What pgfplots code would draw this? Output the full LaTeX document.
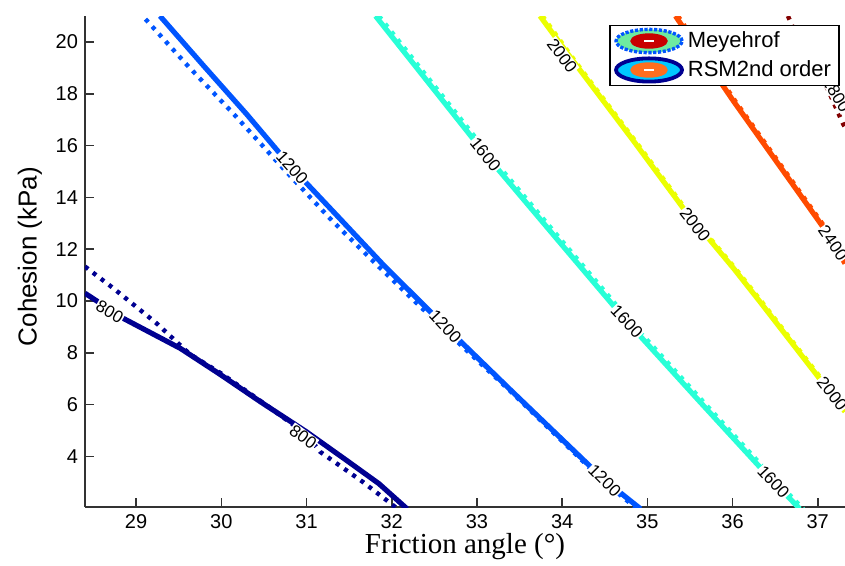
\documentclass[border=0pt]{standalone}
\usepackage{fontspec}
\setmainfont{Liberation Sans}
\newfontfamily\seriffont{Liberation Serif}
\usepackage{pgfplots}
\pgfplotsset{compat=1.18}

\definecolor{c800}{RGB}{0,0,145}
\definecolor{c1200}{RGB}{0,85,255}
\definecolor{c1600}{RGB}{40,255,215}
\definecolor{c2000}{RGB}{235,255,0}
\definecolor{c2400}{RGB}{255,75,0}
\definecolor{c2800}{RGB}{130,0,0}
\definecolor{lgreen}{RGB}{110,235,160}
\definecolor{lred}{RGB}{200,0,0}
\definecolor{lcyan}{RGB}{0,200,255}
\definecolor{lorange}{RGB}{255,110,30}

\tikzset{
  rsm/.style={line width=2.6pt, line join=round},
  mey/.style={line width=2.2pt, dash pattern=on 2pt off 3pt},
  clab/.style={fill=white, inner sep=0.4pt, font=\fontsize{8.5}{9}\selectfont}
}

\begin{document}
\begin{tikzpicture}
\begin{axis}[
  scale only axis, width=380pt, height=245.5pt,
  xmin=28.4, xmax=37.32, ymin=2.05, ymax=21,
  axis x line=bottom, axis y line=left,
  axis line style={-, line width=0.9pt, black!80},
  xtick={29,30,...,37}, ytick={4,6,...,20},
  tick align=inside, major tick length=4.5pt,
  tick style={line width=0.8pt, black!80},
  ticklabel style={font=\fontsize{10}{12}\selectfont},
  /pgf/number format/assume math mode=true,
  xlabel={\seriffont Friction angle (°)},
  xlabel style={font=\fontsize{14.5}{16}\selectfont, at={(axis description cs:0.5,0)}, anchor=north, yshift=-13pt, inner sep=0pt},
  ylabel={Cohesion (kPa)},
  ylabel style={font=\fontsize{13}{15}\selectfont, at={(axis description cs:-0.0724,0.51)}, anchor=center, rotate=0},
  legend style={at={(0.993,0.982)}, anchor=north east, draw=black, line width=0.7pt,
    font=\fontsize{11}{12}\selectfont, inner xsep=2pt, inner ysep=1pt, row sep=1pt,
    /tikz/every even column/.append style={column sep=0pt}},
  legend cell align=left,
]
\addlegendimage{legend image code/.code={
  \draw[line width=1.7pt, c1200, dash pattern=on 1.6pt off 0.8pt, fill=lgreen] (18pt,0pt) ellipse [x radius=16.5pt, y radius=5.8pt];
  \fill[lred] (18pt,0pt) ellipse [x radius=9pt, y radius=3.5pt];
  \draw[white, line width=0.9pt] (15.5pt,0pt) -- (20.5pt,0pt);
}}
\addlegendentry{Meyehrof}
\addlegendimage{legend image code/.code={
  \draw[line width=1.9pt, c800, fill=lcyan] (18pt,0pt) ellipse [x radius=16.5pt, y radius=5.8pt];
  \fill[lorange] (18pt,0pt) ellipse [x radius=9pt, y radius=3.5pt];
  \draw[white, line width=0.9pt] (15.5pt,0pt) -- (20.5pt,0pt);
}}
\addlegendentry{RSM2nd order}
% 800
\addplot[mey, c800, forget plot] coordinates {(28.40,11.33) (28.73,10.50) (29.24,9.14) (29.63,7.95) (30.0,7.2) (30.5,6.05) (31.0,4.85) (31.16,4.18) (31.66,3.02) (31.94,2.31) (32.06,2.0)};
\addplot[rsm, c800, forget plot] coordinates {(28.40,10.30) (28.85,9.33) (29.52,8.17) (29.99,7.16) (30.46,6.11) (31.0,4.95) (31.47,3.85) (31.85,2.95) (32.18,1.98)};
% 1200
\addplot[mey, c1200, forget plot] coordinates {(29.11,20.88) (29.6,19.1) (30.15,17.2) (30.72,15.14) (31.3,13.1) (31.84,11.35) (32.6,8.95) (33.4,6.5) (34.5,3.0) (34.88,1.98)};
\addplot[rsm, c1200, forget plot] coordinates {(29.28,21.0) (29.8,19.05) (30.3,17.2) (30.83,15.14) (31.4,13.15) (31.9,11.4) (32.63,9.01) (33.4,6.55) (34.50,3.08) (34.92,1.98)};
% 1600
\addplot[mey, c1600, forget plot] coordinates {(31.85,21.0) (32.49,18.35) (33.14,15.66) (33.99,12.35) (34.80,9.21) (35.66,6.1) (36.52,3.02) (36.83,1.98)};
\addplot[rsm, c1600, forget plot] coordinates {(31.81,21.0) (32.45,18.35) (33.10,15.66) (33.95,12.35) (34.76,9.21) (35.62,6.1) (36.48,3.02) (36.79,1.98)};
% 2000
\addplot[mey, c2000, forget plot] coordinates {(33.77,21.0) (34.16,19.22) (34.87,16.13) (35.45,13.55) (36.04,11.23) (36.35,9.94) (37.02,7.10) (37.35,5.69)};
\addplot[rsm, c2000, forget plot] coordinates {(33.74,21.0) (34.13,19.26) (34.84,16.17) (35.42,13.59) (36.01,11.27) (36.32,9.98) (36.99,7.14) (37.32,5.73)};
% 2400
\addplot[mey, c2400, forget plot] coordinates {(35.36,21.0) (36.04,17.68) (37.10,12.78) (37.35,11.41)};
\addplot[rsm, c2400, forget plot] coordinates {(35.33,21.0) (36.01,17.72) (37.07,12.82) (37.32,11.45)};
% 2800
\addplot[mey, c2800, forget plot] coordinates {(36.65,21.0) (36.70,20.62) (37.11,18.23) (37.30,16.82) (37.40,16.3)};

% contour labels
\node[clab, rotate=-30] at (axis cs:28.69,9.59) {800};
\node[clab, rotate=-36] at (axis cs:30.96,4.76) {800};
\node[clab, rotate=-48] at (axis cs:30.83,15.14) {1200};
\node[clab, rotate=-47] at (axis cs:32.63,9.01) {1200};
\node[clab, rotate=-45] at (axis cs:34.50,3.08) {1200};
\node[clab, rotate=-51] at (axis cs:33.10,15.66) {1600};
\node[clab, rotate=-47] at (axis cs:34.76,9.21) {1600};
\node[clab, rotate=-47] at (axis cs:36.48,3.02) {1600};
\node[clab, rotate=-53] at (axis cs:34.00,19.46) {2000};
\node[clab, rotate=-52] at (axis cs:35.56,12.95) {2000};
\node[clab, rotate=-52] at (axis cs:37.17,6.43) {2000};
\node[clab, rotate=-55] at (axis cs:37.18,12.24) {2400};
\node[clab, rotate=-59] at (axis cs:37.22,17.98) {2800};
\end{axis}
\pgfresetboundingbox
\path[use as bounding box] ([xshift=-42.5pt,yshift=-29pt]current axis.south west) rectangle ([yshift=8pt]current axis.north east);
\end{tikzpicture}
\end{document}
